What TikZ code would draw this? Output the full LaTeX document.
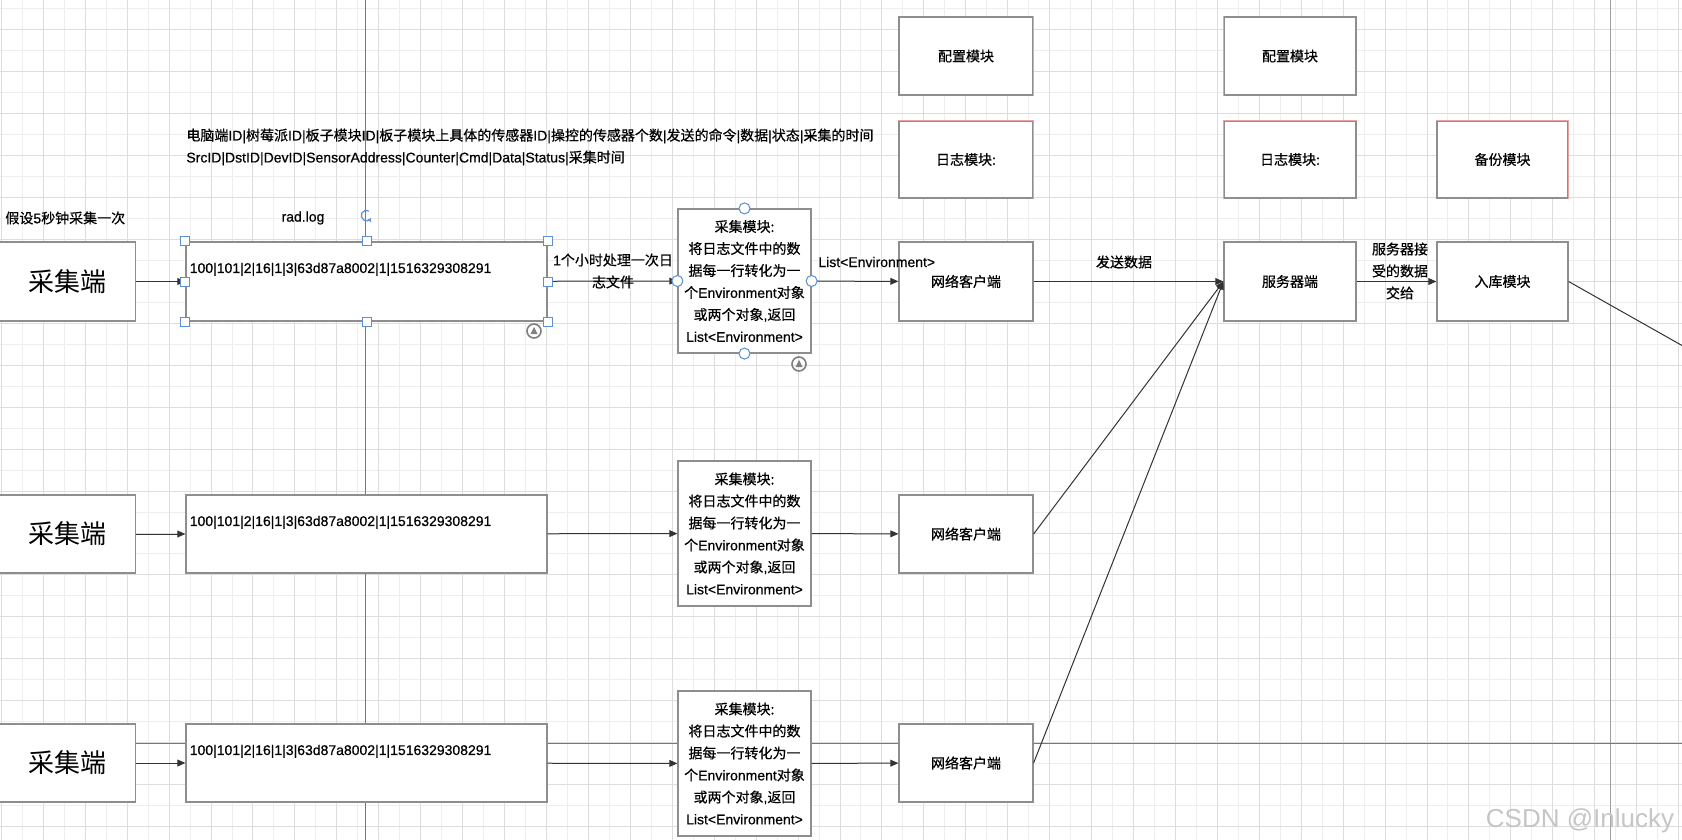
\documentclass[tikz,border=0pt]{standalone}
\usepackage{fontspec}
\setmainfont{Noto Sans CJK SC}[FakeBold=0.5]
\newfontfamily\lat{Liberation Sans}[FakeBold=0.5]
\newfontfamily\latreg{Liberation Sans}
\newfontfamily\cjkreg{Noto Sans CJK SC}
\usetikzlibrary{arrows.meta}
\definecolor{gridmaj}{HTML}{DDDDDD}
\definecolor{gridmin}{HTML}{EEEEEE}
\definecolor{edgegray}{HTML}{8E8E8E}
\definecolor{pinkedge}{HTML}{E9A3A3}
\definecolor{selblue}{HTML}{5B8FD6}
\definecolor{guide}{HTML}{777777}
\definecolor{linecol}{HTML}{333333}
\begin{document}
\begin{tikzpicture}[x=0.5pt,y=-0.5pt,
  wh/.style 2 args={minimum width=#1*0.5pt, minimum height=#2*0.5pt},
  box/.style={draw=edgegray, line width=0.6pt, fill=white, inner sep=0pt, align=center, font=\fontsize{7}{11}\selectfont},
  bigtxt/.style={font=\cjkreg\fontsize{13}{16}\selectfont},
  txt/.style={inner sep=0pt, align=center, font=\fontsize{7}{11}\selectfont},
  conn/.style={draw=linecol, line width=0.5pt, -{Triangle[length=4pt,width=3.4pt]}},
  plain/.style={draw=linecol, line width=0.5pt},
  handle/.style={draw=selblue, fill=white, line width=0.5pt, minimum size=4.5pt, inner sep=0pt},
  chandle/.style={circle, draw=selblue, fill=white, line width=0.5pt, minimum size=5.5pt, inner sep=0pt},
  icon/.style={circle, draw=gray, line width=0.8pt, minimum size=7pt, inner sep=0pt},
  pinkline/.style={draw=pinkedge, line width=0.6pt}]
\useasboundingbox (0,0) rectangle (1682,840);
\fill[white] (0,0) rectangle (1682,840);
% grid
\foreach \i in {0,...,40} {
  \draw[gridmin, line width=0.5pt] ({1.4+20.965+\i*41.93},0) -- ++(0,840);
}
\foreach \i in {-1,...,20} {
  \draw[gridmin, line width=0.5pt] (0,{29.6+20.975+\i*41.95}) -- ++(1682,0);
}
\foreach \i in {0,...,40} {
  \draw[gridmaj, line width=0.5pt] ({1.4+\i*41.93},0) -- ++(0,840);
}
\foreach \i in {-1,...,20} {
  \draw[gridmaj, line width=0.5pt] (0,{29.6+\i*41.95}) -- ++(1682,0);
}
% guide lines
\draw[guide, line width=0.5pt] (365,0) -- (365,840);
\draw[guide!70, line width=0.5pt] (1610,0) -- (1610,840);
\draw[guide, line width=0.5pt] (0,743) -- (1682,743);

% top texts
\node[txt, anchor=west] (hdr1) at (186,136) {电脑端{\lat ID|}树莓派{\lat ID|}板子模块{\lat ID|}板子模块上具体的传感器{\lat ID|}操控的传感器个数{\lat |}发送的命令{\lat |}数据{\lat |}状态{\lat |}采集的时间};
\node[txt, anchor=west] (hdr2) at (186,158) {{\lat SrcID|DstID|DevID|SensorAddress|Counter|Cmd|Data|Status|}采集时间};
\node[txt, anchor=west] (note) at (5,218) {假设{\lat 5}秒钟采集一次};
\node[txt] (radlog) at (303,218) {\lat rad.log};

% top module boxes
\node[box, wh={134}{78}] (pz1) at (966,56) {配置模块};
\node[box, wh={134}{77}] (rz1) at (966,159.5) {日志模块:};
\node[box, wh={132}{78}] (pz2) at (1290,56) {配置模块};
\node[box, wh={132}{77}] (rz2) at (1290,159.5) {日志模块:};
\node[box, wh={131}{77}] (bf) at (1502.5,159.5) {备份模块};
\draw[pinkline] (pz1.north east) -- (pz1.south east);
\draw[pinkline] (rz1.north west) -- (rz1.north east) -- (rz1.south east);
\draw[pinkline] (pz2.north west) -- (pz2.south west);
\draw[pinkline] (rz2.south west) -- (rz2.north west) -- (rz2.north east);
\draw[pinkline] (bf.north west) -- (bf.north east) -- (bf.south east);

% row 1
\node[box, bigtxt, wh={137}{79}] (cj1) at (67,281.5) {采集端};
\node[box, wh={361}{79}] (log1) at (366.5,281.5) {};
\node[txt, anchor=west] (lt1) at ([xshift=2pt,yshift=-14pt]log1.north west) {\lat 100|101|2|16|1|3|63d87a8002|1|1516329308291};
\node[box, wh={133}{144}] (mod1) at (744.5,281) {采集模块:\\将日志文件中的数\\据每一行转化为一\\个{\lat Environment}对象\\或两个对象{\lat ,}返回\\{\lat List<Environment>}};
\node[box, wh={134}{79}] (net1) at (966,281.5) {网络客户端};
\node[box, wh={132}{79}] (srv) at (1290,281.5) {服务器端};
\node[box, wh={131}{79}] (ruku) at (1502.5,281.5) {入库模块};

% row 2
\node[box, bigtxt, wh={137}{78}] (cj2) at (67,534) {采集端};
\node[box, wh={361}{78}] (log2) at (366.5,534) {};
\node[txt, anchor=west] (lt2) at ([xshift=2pt,yshift=-14pt]log2.north west) {\lat 100|101|2|16|1|3|63d87a8002|1|1516329308291};
\node[box, wh={133}{145}] (mod2) at (744.5,533.5) {采集模块:\\将日志文件中的数\\据每一行转化为一\\个{\lat Environment}对象\\或两个对象{\lat ,}返回\\{\lat List<Environment>}};
\node[box, wh={134}{78}] (net2) at (966,534) {网络客户端};

% row 3
\node[box, bigtxt, wh={137}{78}] (cj3) at (67,763) {采集端};
\node[box, wh={361}{78}] (log3) at (366.5,763) {};
\node[txt, anchor=west] (lt3) at ([xshift=2pt,yshift=-14pt]log3.north west) {\lat 100|101|2|16|1|3|63d87a8002|1|1516329308291};
\node[box, wh={133}{145}] (mod3) at (744.5,763.5) {采集模块:\\将日志文件中的数\\据每一行转化为一\\个{\lat Environment}对象\\或两个对象{\lat ,}返回\\{\lat List<Environment>}};
\node[box, wh={134}{78}] (net3) at (966,763) {网络客户端};

% connectors
\coordinate (offR) at (1690,350);
\draw[conn] (cj1) -- (log1);
\draw[conn] (log1) -- (mod1);
\draw[conn] (mod1) -- (net1);
\draw[conn] (net1) -- (srv);
\draw[conn] (srv) -- (ruku);
\draw[plain] (ruku.east) -- (offR);
\draw[conn] (cj2) -- (log2);
\draw[conn] (log2) -- (mod2);
\draw[conn] (mod2) -- (net2);
\draw[conn] (net2.east) -- (srv.west);
\draw[conn] (cj3) -- (log3);
\draw[conn] (log3) -- (mod3);
\draw[conn] (mod3) -- (net3);
\draw[conn] (net3.east) -- (srv.west);

% connector labels
\node[txt] (lbl1) at (613,271) {{\lat 1}个小时处理一次日\\志文件};
\node[txt, anchor=west] (lbl2) at (818,262) {\lat List<Environment>};
\node[txt] (lbl3) at (1124,262) {发送数据};
\node[txt] (lbl4) at (1400,271) {服务器接\\受的数据\\交给};

% selection decorations (editor UI)
\draw[selblue, dashed, line width=0.5pt] (log1.north west) rectangle (log1.south east);
\foreach \a/\n in {north west/ha,north/hb,north east/hc,west/hd,east/he,south west/hf,south/hg,south east/hh} {
  \node[handle] (\n) at (log1.\a) {};
}
\foreach \a/\n in {north/ca,south/cb,west/cc,east/cd} {
  \node[chandle] (\n) at (mod1.\a) {};
}
\draw[selblue, line width=0.6pt, -{Stealth[length=2pt,width=2.5pt]}] (369,211) arc[start angle=60, end angle=330, radius=2.6pt];
\node[icon] (ic1) at (534,331) {};
\fill[gray] (534,327) -- (537.5,334) -- (530.5,334) -- cycle;
\node[icon] (ic2) at (799,364) {};
\fill[gray] (799,360) -- (802.5,367) -- (795.5,367) -- cycle;

% watermark
\node[inner sep=0pt, text=gray!45, font=\latreg\fontsize{13}{15}\selectfont] (wm) at (1580,821) {CSDN @Inlucky};
\end{tikzpicture}
\end{document}
